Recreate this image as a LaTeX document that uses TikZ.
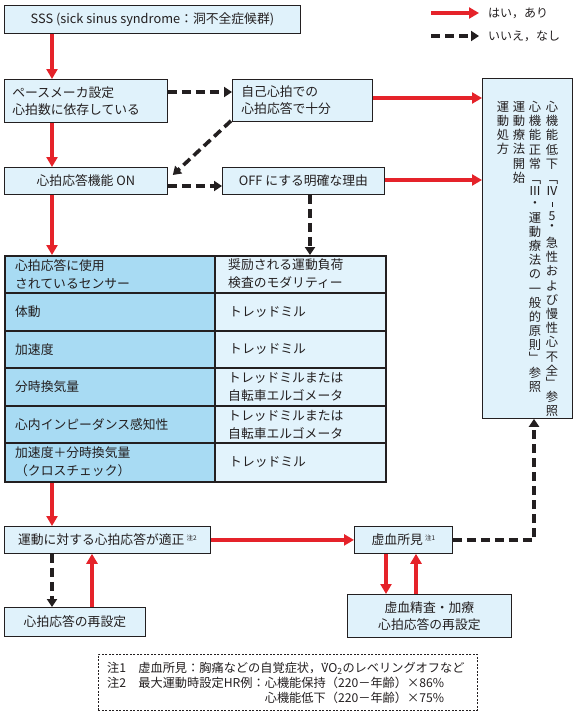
\documentclass[tikz,border=0pt]{standalone}
\usepackage{fontspec}
\setmainfont{Noto Sans CJK JP}
\usetikzlibrary{arrows.meta,calc}
\definecolor{arr}{HTML}{E5232A}
\definecolor{lc}{HTML}{231F20}
\definecolor{bf}{HTML}{E0F2FB}
\definecolor{tl}{HTML}{A8DBF3}
\definecolor{tr}{HTML}{E2F3FC}
\newcommand\mf{\fontsize{12.8}{17}\selectfont}
\newcommand\vf{\fontsize{12.3}{14.2}\selectfont}
\newcommand\ff{\fontsize{12.2}{15}\selectfont}
\newcommand\notemark[1]{\,\raisebox{4pt}{\fontsize{6.5}{7}\selectfont #1}}
\newcommand\Vd{\leavevmode\rlap{\hspace{0.17em}\raisebox{0.7em}{.}}V}
\newcommand\vbar{\rule{0.7pt}{5pt}}
\begin{document}
\begin{tikzpicture}[x=1pt,y=-1pt,
  box/.style={draw=lc, fill=bf, line width=0.8pt, inner sep=0pt, anchor=north west, font=\mf, text=lc},
  ya/.style={draw=arr, color=arr, line width=3.6pt, -{Triangle[length=10pt,width=11pt]}},
  na/.style={draw=lc, color=lc, line width=3.6pt, dash pattern=on 9pt off 5pt, -{Triangle[length=8pt,width=10pt]}},
  cell/.style={anchor=west, align=left, inner sep=0pt, font=\fontsize{12.8}{18}\selectfont, text=lc},
  vcol/.style={anchor=north, align=center, inner sep=0pt, font=\vf, text=lc}
]
\useasboundingbox (0,0) rectangle (576,715);

% legend
\node[anchor=west, inner sep=0pt, font=\fontsize{12}{14}\selectfont, text=lc] (lg1) at (488,13) {はい，あり};
\node[anchor=west, inner sep=0pt, font=\fontsize{12}{14}\selectfont, text=lc] (lg2) at (488,36) {いいえ，なし};
\coordinate (la1) at (431,13);
\coordinate (la2) at (431,36);
\draw[ya] (la1) -- ($(lg1.west)+(-9,0)$);
\draw[na] (la2) -- ($(lg2.west)+(-9,0)$);

% boxes
\node[box, minimum width=296, minimum height=28] (sss) at (4,5) {SSS (sick sinus syndrome：洞不全症候群)};
\node[box, minimum width=163, minimum height=43, text width=147, inner xsep=8pt, align=left] (pm) at (4,79) {ペースメーカ設定\\心拍数に依存している};
\node[box, minimum width=140, minimum height=42, text width=122, inner xsep=9pt, align=left] (own) at (232,79) {自己心拍での\\心拍応答で十分};
\node[box, minimum width=163, minimum height=27] (on) at (4,167) {心拍応答機能 ON};
\node[box, minimum width=162, minimum height=27] (off) at (222,167) {OFF にする明確な理由};
\node[box, minimum width=90, minimum height=340] (rb) at (482,78) {};

% vertical text columns
\node[vcol] (c1) at (552,101) {心\\機\\能\\低\\下\\[1pt]﹁\\[-2pt]Ⅳ\\[-3pt]\vbar\\[-1pt]5\\[-4pt]・\\[3pt]急\\性\\お\\よ\\び\\慢\\性\\心\\不\\全\\[-2pt]﹂\\参\\照};
\node[vcol] (c2) at (535,101) {心\\機\\能\\正\\常\\[1pt]﹁\\[-2pt]Ⅲ\\[-2pt]・\\[0pt]運\\動\\療\\法\\の\\一\\般\\的\\原\\則\\[-2pt]﹂\\[1pt]参\\照};
\node[vcol] (c3) at (519,101) {運\\動\\療\\法\\開\\始};
\node[vcol] (c4) at (503,101) {運\\動\\処\\方};

% table
\fill[tl] (4,255) rectangle (215,481);
\fill[tr] (215,255) rectangle (385,481);
\foreach \yy in {293,331,368,406,443} \draw[lc, line width=1.3pt] (4,\yy) -- (385,\yy);
\draw[lc, line width=1.3pt] (215,255) -- (215,481);
\node[anchor=north west, minimum width=381, minimum height=226, inner sep=0pt, draw=lc, line width=2.4pt] (tbl) at (4,255) {};
\node[cell] (l0) at (15,274) {心拍応答に使用\\されているセンサー};
\node[cell] (r0) at (228,274) {奨励される運動負荷\\検査のモダリティー};
\node[cell] (l1) at (15,312) {体動};
\node[cell] (r1) at (229,312) {トレッドミル};
\node[cell] (l2) at (15,349.5) {加速度};
\node[cell] (r2) at (229,349.5) {トレッドミル};
\node[cell] (l3) at (15,387) {分時換気量};
\node[cell] (r3) at (228,387) {トレッドミルまたは\\自転車エルゴメータ};
\node[cell] (l4) at (15,424.5) {心内インピーダンス感知性};
\node[cell] (r4) at (228,424.5) {トレッドミルまたは\\自転車エルゴメータ};
\node[cell] (l5) at (15,462) {加速度＋分時換気量\\（クロスチェック）};
\node[cell] (r5) at (229,462) {トレッドミル};

% bottom boxes
\node[box, minimum width=206, minimum height=27] (ok) at (4,526) {運動に対する心拍応答が適正\notemark{注2}};
\node[box, minimum width=141, minimum height=29] (reset) at (4,607) {心拍応答の再設定};
\node[box, minimum width=98, minimum height=27] (isch) at (354,526) {虚血所見\notemark{注1}};
\node[box, minimum width=164, minimum height=43, align=center] (isch2) at (347,594) {虚血精査・加療\\心拍応答の再設定};

% footnote
\node[anchor=north west, minimum width=379, minimum height=56, inner sep=0pt, draw=lc, line width=0.6pt, dash pattern=on 2pt off 1.5pt] (fn) at (98,654) {};
\node[anchor=west, align=left, inner sep=0pt, font=\ff, text=lc] (fnt) at (107,683) {注1\quad 虚血所見：胸痛などの自覚症状，\Vd O\textsubscript{2}のレベリングオフなど\\注2\quad 最大運動時設定HR例：心機能保持（220－年齢）×86\%\\\hphantom{注2\quad 最大運動時設定HR例：}心機能低下（220－年齢）×75\%};

% helper coordinates
\coordinate (xa) at (52,0);
\coordinate (xb) at (92,0);
\coordinate (xc) at (386,0);
\coordinate (xd) at (416,0);
\coordinate (xe) at (310,0);
\coordinate (xf) at (534,0);
\coordinate (y1) at (0,92);
\coordinate (y2) at (0,98);
\coordinate (y3) at (0,186);
\coordinate (y4) at (0,180);

% connectors
\draw[ya] (sss.south -| xa) -- (pm.north -| xa);
\draw[ya] (pm.south -| xa) -- (on.north -| xa);
\draw[ya] (on.south -| xa) -- (tbl.north -| xa);
\draw[ya] (tbl.south -| xa) -- (ok.north -| xa);
\draw[na] (ok.south -| xa) -- (reset.north -| xa);
\draw[ya] (reset.north -| xb) -- (ok.south -| xb);
\draw[ya] (ok.east) -- (isch.west);
\draw[ya] (isch.south -| xc) -- (isch2.north -| xc);
\draw[ya] (isch2.north -| xd) -- (isch.south -| xd);
\draw[na] (isch.east) -| (rb.south -| xf);
\draw[na] (pm.east |- y1) -- (own.west |- y1);
\draw[ya] (own.east |- y2) -- (rb.west |- y2);
\draw[na] ($(own.south west)+(-1,-1)$) -- ($(on.north east)+(5,8)$);
\draw[na] (on.east |- y3) -- (off.west |- y3);
\draw[ya] (off.east |- y4) -- (rb.west |- y4);
\draw[na] (off.south -| xe) -- (tbl.north -| xe);
\end{tikzpicture}
\end{document}
